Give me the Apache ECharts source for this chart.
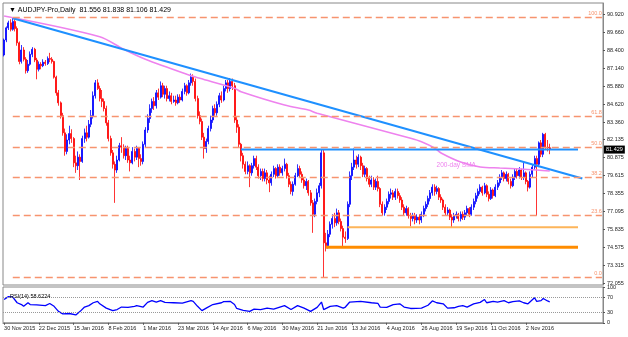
<!DOCTYPE html>
<html><head><meta charset="utf-8">
<script src="https://cdn.jsdelivr.net/npm/echarts@6/dist/echarts.min.js"></script>
<style>html,body{margin:0;padding:0;background:#fff}#c{width:628px;height:337px}</style>
</head><body><div id="c"></div><script>
// ---------- data ----------
const dateLabels = ['30 Nov 2015','22 Dec 2015','15 Jan 2016','8 Feb 2016','1 Mar 2016','23 Mar 2016','14 Apr 2016','6 May 2016','30 May 2016','21 Jun 2016','13 Jul 2016','4 Aug 2016','26 Aug 2016','19 Sep 2016','11 Oct 2016','2 Nov 2016'];
const labelEvery = 16;
const barSlots = 276;
const priceTicks = [90.920,89.660,88.400,87.140,85.880,84.620,83.360,82.135,80.875,79.615,78.355,77.095,75.835,74.575,73.315,72.055];
const rsiTicks = [0,30,70,100];

const opens = [
88.05,89.10,89.95,90.30,89.85,90.40,89.90,88.90,87.60,88.40,
87.75,86.95,87.40,88.10,88.45,87.70,87.05,87.40,87.30,87.55,
87.45,87.80,87.75,87.60,86.50,85.40,84.70,83.80,82.60,81.30,
82.10,82.55,82.20,80.50,80.30,80.90,80.60,82.20,82.60,82.30,
83.20,83.80,85.20,86.10,85.70,85.00,84.80,84.30,83.30,82.20,
81.20,80.40,80.00,80.70,81.70,81.60,81.00,81.50,80.70,80.50,
81.30,80.90,81.50,80.80,80.60,81.80,82.80,83.60,84.30,84.80,
84.50,85.40,85.10,85.90,85.30,85.70,85.00,85.20,84.80,84.90,
84.70,85.10,84.90,85.50,85.90,85.40,86.10,86.50,86.20,85.00,
83.80,83.40,82.30,81.50,82.00,82.90,83.50,84.30,84.00,84.60,
85.20,84.90,85.70,86.10,85.70,86.20,85.90,83.50,83.00,81.80,
81.00,80.40,79.90,80.30,79.80,80.30,80.80,80.20,79.60,79.90,
79.40,79.80,79.30,79.10,79.70,80.10,79.60,80.20,79.80,80.10,
80.40,79.60,79.00,78.50,79.00,79.60,80.10,79.70,79.30,78.90,
79.20,78.40,77.70,76.90,77.80,78.40,78.90,81.20,74.90,74.70,
75.50,76.20,76.60,76.30,77.00,76.40,75.90,75.30,75.20,77.60,
79.60,80.20,80.70,80.40,80.90,80.30,79.70,80.10,79.40,79.00,
79.30,78.80,79.20,78.70,77.60,77.00,77.40,77.80,78.30,78.40,
78.10,78.50,78.20,77.90,77.40,77.00,77.30,76.80,76.60,76.80,
76.50,76.70,76.50,76.90,77.30,77.60,78.00,78.40,78.80,78.50,
78.70,78.10,77.90,77.40,77.00,77.20,76.70,76.50,76.80,76.90,
76.60,76.90,76.70,77.00,77.30,76.90,77.40,77.80,78.20,78.50,
78.80,78.40,78.90,78.30,78.00,78.60,78.20,78.80,79.10,79.50,
79.80,79.40,79.70,79.20,78.90,79.50,79.90,79.60,80.00,79.50,
79.80,79.20,78.80,79.70,80.20,80.80,80.40,81.90,81.10,82.50,
81.60,81.556];
const highs = [
89.20,90.05,90.45,90.55,90.71,90.60,90.05,89.00,88.75,88.60,
87.90,87.70,88.30,88.60,88.55,87.85,87.60,87.55,87.75,87.70,
87.95,88.20,87.90,87.65,86.60,85.60,84.80,84.00,82.90,82.50,
83.10,82.85,82.30,81.00,81.30,81.10,82.40,82.90,83.10,83.50,
84.20,85.50,86.30,86.35,85.90,85.60,85.00,84.50,83.50,82.40,
81.40,80.60,81.00,81.90,82.30,81.80,81.70,81.70,81.00,81.60,
81.50,81.70,81.60,81.10,82.00,83.00,83.90,84.60,85.00,85.10,
85.60,85.70,86.20,86.10,85.90,85.90,85.50,85.40,85.20,85.20,
85.30,85.30,85.70,86.10,86.00,86.30,86.75,86.70,86.40,85.20,
84.10,83.60,82.60,82.20,83.10,83.80,84.50,84.60,84.80,85.40,
85.50,85.90,86.30,86.30,86.44,86.40,86.10,83.70,83.20,81.90,
81.20,80.60,80.60,80.40,80.50,81.00,81.00,80.40,80.10,80.10,
80.10,80.00,79.60,79.90,80.30,80.20,80.40,80.40,80.30,80.80,
80.50,79.80,79.20,79.20,79.80,80.40,80.30,79.90,79.50,79.40,
79.30,78.60,77.90,78.00,78.70,79.10,81.45,81.40,75.60,75.80,
76.40,76.90,77.00,77.30,77.20,76.60,76.10,75.70,77.80,79.90,
80.50,81.50,81.00,81.10,81.00,80.50,80.30,80.20,79.60,79.60,
79.50,79.40,79.60,78.80,77.80,77.60,78.00,78.50,78.70,78.60,
78.70,78.70,78.40,78.10,77.60,77.50,77.40,77.00,77.00,77.00,
76.90,76.90,77.10,77.50,77.80,78.20,78.60,79.00,79.00,78.90,
78.80,78.30,78.00,77.60,77.40,77.30,76.90,77.00,77.10,77.00,
77.10,77.10,77.20,77.50,77.40,77.60,78.00,78.40,78.70,79.00,
78.90,79.10,79.00,78.50,78.80,78.70,79.00,79.30,79.70,80.00,
79.90,79.90,79.80,79.40,79.70,80.10,80.10,80.20,80.10,80.60,
79.90,79.30,79.90,80.40,81.00,81.00,82.00,82.10,82.60,82.60,
82.10,81.838];
const lows = [
87.95,88.95,89.80,89.70,89.75,89.70,88.70,87.40,87.45,87.60,
86.75,86.80,87.30,87.90,87.55,86.35,86.90,87.05,87.20,87.30,
87.35,87.55,87.45,86.40,85.20,84.50,83.60,82.40,81.00,81.10,
81.80,81.90,80.20,79.80,80.00,79.30,80.50,81.90,82.00,82.20,
83.00,83.60,85.00,85.60,84.80,84.40,84.10,83.10,82.00,81.00,
80.10,77.70,79.80,80.60,81.20,80.80,80.70,80.50,79.90,80.40,
80.60,80.70,80.20,80.30,80.40,81.60,82.60,83.30,84.00,84.20,
84.30,84.90,85.00,85.10,85.00,84.80,84.80,84.60,84.70,84.50,
84.60,84.70,84.80,85.30,85.20,85.30,85.90,85.90,84.80,83.60,
83.20,82.10,80.80,81.20,81.80,82.70,83.30,83.80,83.80,84.40,
84.70,84.80,85.50,85.40,85.50,85.60,83.30,82.60,81.60,80.60,
80.10,79.70,79.70,78.80,79.60,80.10,80.00,79.40,79.30,79.20,
79.20,79.00,78.45,78.90,79.50,79.40,79.50,79.60,79.60,79.90,
79.40,78.80,78.30,78.20,78.90,79.50,79.50,79.10,78.70,78.60,
78.20,77.50,75.60,76.70,77.60,78.10,78.70,72.50,74.30,74.50,
75.30,75.90,76.00,76.10,76.20,75.70,74.65,74.90,75.10,77.40,
79.30,80.00,80.10,80.20,80.00,79.50,79.50,79.20,78.80,78.80,
78.60,78.60,78.50,77.40,76.80,76.80,77.20,77.60,78.00,77.90,
77.90,78.00,77.70,77.20,76.80,76.80,76.60,76.05,76.40,76.20,
76.30,76.20,76.30,76.70,77.10,77.40,77.80,78.20,78.20,78.30,
77.90,77.70,77.20,76.80,76.80,76.50,76.00,76.30,76.60,76.40,
76.40,76.50,76.50,76.80,76.70,76.80,77.20,77.60,78.00,78.30,
78.20,78.30,78.10,77.80,77.90,78.00,78.10,78.60,78.90,79.30,
79.20,79.20,79.00,78.70,78.80,79.30,79.40,79.40,79.30,79.30,
79.00,78.50,78.70,79.50,80.00,76.80,80.20,80.90,80.90,81.40,
81.30,81.106];
const closes = [
89.10,89.95,90.30,89.85,90.40,89.90,88.90,87.60,88.40,87.75,
86.95,87.40,88.10,88.45,87.70,87.05,87.40,87.30,87.55,87.45,
87.80,87.75,87.60,86.50,85.40,84.70,83.80,82.60,81.30,82.10,
82.55,82.20,80.50,80.30,80.90,80.60,82.20,82.60,82.30,83.20,
83.80,85.20,86.10,85.70,85.00,84.80,84.30,83.30,82.20,81.20,
80.40,80.00,80.70,81.70,81.60,81.00,81.50,80.70,80.50,81.30,
80.90,81.50,80.80,80.60,81.80,82.80,83.60,84.30,84.80,84.50,
85.40,85.10,85.90,85.30,85.70,85.00,85.20,84.80,84.90,84.70,
85.10,84.90,85.50,85.90,85.40,86.10,86.50,86.20,85.00,83.80,
83.40,82.30,81.50,82.00,82.90,83.50,84.30,84.00,84.60,85.20,
84.90,85.70,86.10,85.70,86.20,85.90,83.50,83.00,81.80,81.00,
80.40,79.90,80.30,79.80,80.30,80.80,80.20,79.60,79.90,79.40,
79.80,79.30,79.10,79.70,80.10,79.60,80.20,79.80,80.10,80.40,
79.60,79.00,78.50,79.00,79.60,80.10,79.70,79.30,78.90,79.20,
78.40,77.70,76.90,77.80,78.40,78.90,81.20,74.90,74.70,75.50,
76.20,76.60,76.30,77.00,76.40,75.90,75.30,75.20,77.60,79.60,
80.20,80.70,80.40,80.90,80.30,79.70,80.10,79.40,79.00,79.30,
78.80,79.20,78.70,77.60,77.00,77.40,77.80,78.30,78.40,78.10,
78.50,78.20,77.90,77.40,77.00,77.30,76.80,76.60,76.80,76.50,
76.70,76.50,76.90,77.30,77.60,78.00,78.40,78.80,78.50,78.70,
78.10,77.90,77.40,77.00,77.20,76.70,76.50,76.80,76.90,76.60,
76.90,76.70,77.00,77.30,76.90,77.40,77.80,78.20,78.50,78.80,
78.40,78.90,78.30,78.00,78.60,78.20,78.80,79.10,79.50,79.80,
79.40,79.70,79.20,78.90,79.50,79.90,79.60,80.00,79.50,79.80,
79.20,78.80,79.70,80.20,80.80,80.40,81.90,81.10,82.50,81.60,
81.556,81.429];

// 200-day SMA: [bar index, price]
const smaPoints = [[0,90.78],[44,89.33],[55,88.45],[65,87.75],[85,86.65],[90,86.42],[106,85.72],[109,85.48],[129,84.55],[140,84.20],[144,83.97],[187,82.22],[192,81.98],[198,81.54],[201,81.19],[210,80.56],[219,80.21],[228,80.14],[238,80.07],[245,80.00],[251,79.93]];
// RSI(14): [bar index, value]
const rsiPoints = [[0,65],[2,73],[4,72],[6,56],[8,51],[9,46],[11,56],[12,51],[15,50],[19,48],[21,54],[23,46],[25,32],[27,25],[30,26],[33,22],[35,32],[37,44],[39,48],[41,56],[43,60],[44,53],[47,41],[50,34],[52,37],[54,44],[57,43],[60,46],[61,48],[64,44],[66,57],[68,62],[70,58],[72,62],[74,57],[78,56],[82,55],[86,62],[87,60],[89,46],[91,34],[93,41],[96,51],[100,56],[101,59],[104,60],[106,51],[107,40],[110,35],[113,32],[115,38],[118,37],[121,41],[124,38],[129,48],[132,37],[135,48],[138,41],[141,32],[144,43],[146,58],[147,37],[150,46],[153,48],[156,41],[157,44],[159,58],[164,60],[169,56],[172,54],[173,44],[176,43],[179,51],[182,53],[184,44],[187,40],[192,41],[195,49],[197,61],[199,56],[202,53],[204,41],[207,42],[209,46],[211,48],[213,44],[216,53],[219,57],[221,65],[222,56],[225,60],[227,58],[230,62],[232,56],[234,59],[237,61],[239,56],[241,53],[244,70],[245,60],[247,62],[248,68],[250,61],[251,58.6224]];

const fibLevels = [90.71, 83.75, 81.61, 79.46, 76.80, 72.50];
const fibLabels = ['100.0','61.8','50.0','38.2','23.6','0.0'];
const fibSpan = [4, 275];
const trendLine = [[4, 90.62],[266, 79.40]];
const resistanceLine = [[109, 81.43],[264, 81.43]];
const supportStrong = [[148, 74.60],[264, 74.60]];
const supportLight = [[158, 76.00],[264, 76.00]];
const smaLabelAt = [208, 80.35];
const lastPrice = 81.429;
const headerText = '\u25BC AUDJPY-Pro,Daily  81.556 81.838 81.106 81.429';
const rsiText = 'RSI(14) 58.6224';

// ---------- chart ----------
const categories = Array.from({length: barSlots}, (_, i) => String(i));
const candles = opens.map((o, i) => [o, closes[i], lows[i], highs[i]]);
const FONT = 'Liberation Sans, Arial, sans-serif';
const chart = echarts.init(document.getElementById('c'), null, {renderer: 'canvas'});
const showIdx = (i) => i % labelEvery === 0 && i / labelEvery < dateLabels.length;

chart.setOption({
  animation: false,
  backgroundColor: '#fff',
  textStyle: {fontFamily: FONT},
  title: [
    {text: headerText, left: 4, top: 2, textStyle: {fontSize: 7, fontWeight: 'normal', color: '#000', fontFamily: FONT}},
    {text: rsiText, left: 5, top: 288, textStyle: {fontSize: 5.5, fontWeight: 'normal', color: '#000', fontFamily: FONT}}
  ],
  grid: [
    {left: 3, top: 3, width: 600, height: 282, show: true, borderColor: '#888', borderWidth: 1},
    {left: 3, top: 287, width: 600, height: 35.8, show: true, borderColor: '#888', borderWidth: 1}
  ],
  xAxis: [
    {type: 'category', gridIndex: 0, data: categories, boundaryGap: true,
     axisLine: {show: false}, axisTick: {show: false}, axisLabel: {show: false}, splitLine: {show: false}},
    {type: 'category', gridIndex: 1, data: categories, boundaryGap: true,
     axisLine: {show: true, lineStyle: {color: '#888'}},
     axisTick: {show: true, alignWithLabel: true, interval: showIdx, length: 2, lineStyle: {color: '#555'}},
     axisLabel: {show: true, interval: showIdx, align: 'left', margin: 3, fontSize: 5.5, color: '#222',
                 formatter: (v, idx) => dateLabels[Math.round(idx / labelEvery)]},
     splitLine: {show: false}}
  ],
  yAxis: [
    {type: 'value', gridIndex: 0, position: 'right', min: 71.95, max: 91.69, scale: true,
     axisLine: {show: true, lineStyle: {color: '#888'}},
     axisTick: {show: true, length: 2, customValues: priceTicks, lineStyle: {color: '#555'}},
     axisLabel: {show: true, customValues: priceTicks, margin: 4, fontSize: 5.5, color: '#222',
                 formatter: (v) => v.toFixed(3)},
     splitLine: {show: false}},
    {type: 'value', gridIndex: 1, position: 'right', min: 0, max: 100,
     axisLine: {show: true, lineStyle: {color: '#888'}},
     axisTick: {show: true, length: 2, customValues: rsiTicks, lineStyle: {color: '#555'}},
     axisLabel: {show: true, customValues: rsiTicks, margin: 4, fontSize: 5.5, color: '#222'},
     splitLine: {show: false}}
  ],
  series: [
    {type: 'line', xAxisIndex: 0, yAxisIndex: 0, data: [], silent: true,
     markLine: {silent: true, symbol: ['none', 'none'],
       lineStyle: {color: '#F7946F', type: [7, 4], width: 1.3},
       label: {show: true, position: 'insideEndTop', formatter: '{b}', color: '#F7946F', fontSize: 5.5, distance: [0, 1]},
       data: fibLevels.map((lv, k) => [{coord: [fibSpan[0], lv], name: fibLabels[k]}, {coord: [fibSpan[1], lv]}])}},
    {type: 'line', xAxisIndex: 0, yAxisIndex: 0, data: supportLight, showSymbol: false, silent: true,
     lineStyle: {color: '#FDB55A', width: 2}},
    {type: 'line', xAxisIndex: 0, yAxisIndex: 0, data: supportStrong, showSymbol: false, silent: true,
     lineStyle: {color: '#FF8C00', width: 3}},
    {type: 'line', xAxisIndex: 0, yAxisIndex: 0, data: smaPoints, showSymbol: false, smooth: 0.3, silent: true,
     lineStyle: {color: '#EE82EE', width: 1.5},
     markPoint: {silent: true, symbol: 'circle', symbolSize: 0,
       data: [{coord: smaLabelAt, label: {show: true, position: 'inside', formatter: '200-day SMA', color: '#EE82EE', fontSize: 6.5}}]}},
    {type: 'line', xAxisIndex: 0, yAxisIndex: 0, data: trendLine, showSymbol: false, silent: true,
     lineStyle: {color: '#1E90FF', width: 2}},
    {type: 'line', xAxisIndex: 0, yAxisIndex: 0, data: resistanceLine, showSymbol: false, silent: true,
     lineStyle: {color: '#1E90FF', width: 2}},
    {type: 'candlestick', xAxisIndex: 0, yAxisIndex: 0, data: candles, barWidth: 1.5,
     itemStyle: {color: '#0000FF', color0: '#FF0000', borderColor: '#0000FF', borderColor0: '#FF0000', borderWidth: 0.8}},
    {type: 'line', xAxisIndex: 0, yAxisIndex: 0, data: [], silent: true,
     markLine: {silent: true, symbol: ['none', 'none'],
       lineStyle: {color: 'rgba(0,0,0,0)', width: 0},
       label: {show: true, position: 'end', formatter: lastPrice.toFixed(3), backgroundColor: '#000', color: '#fff',
               fontSize: 5.5, padding: [1, 2], distance: 1},
       data: [{yAxis: lastPrice}]}},
    {type: 'line', xAxisIndex: 1, yAxisIndex: 1, data: rsiPoints, showSymbol: false, silent: true,
     lineStyle: {color: '#0000FF', width: 1.3},
     markLine: {silent: true, symbol: ['none', 'none'], label: {show: false},
       lineStyle: {color: '#999', type: 'dotted', width: 1},
       data: [{yAxis: 70}, {yAxis: 30}]}}
  ]
});
</script></body></html>
